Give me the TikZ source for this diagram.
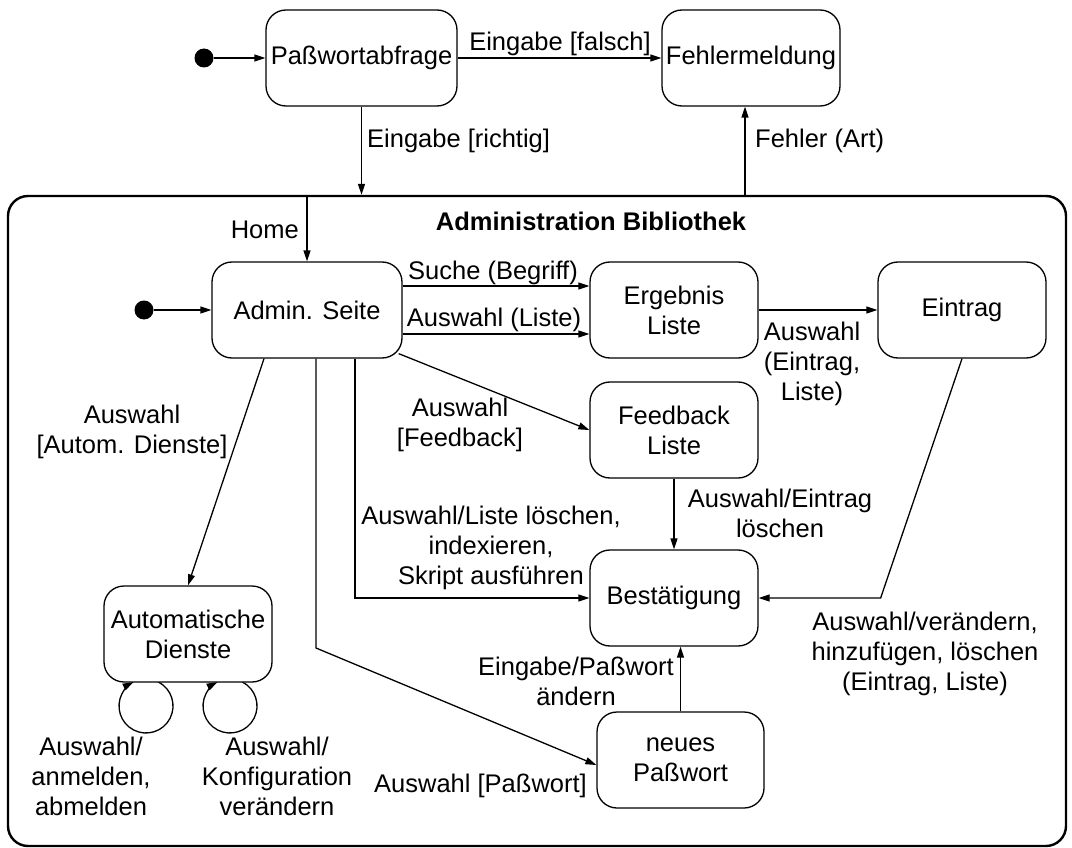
\documentclass[tikz,border=0pt]{standalone}
\usepackage{fontspec}
\setmainfont{Liberation Sans}
\usetikzlibrary{arrows.meta}
\begin{document}
\begin{tikzpicture}[x=1pt,y=-1pt,
  every node/.style={font=\fontsize{25.5}{30}\selectfont},
  state/.style={draw, fill=white, rounded corners=20pt, line width=1.3pt,
    minimum width=168pt, minimum height=96pt, align=center, inner sep=2pt},
  arr/.style={line width=1.3pt, -{Triangle[length=11pt,width=7pt]}},
  plain/.style={line width=1.3pt},
  lbl/.style={align=center, inner sep=0pt},
  initdot/.style={circle, fill=black, minimum size=19pt, inner sep=0pt},
]
\useasboundingbox (0,0) rectangle (1072,848);

% composite state
\node[draw, rounded corners=20pt, line width=2.4pt, minimum width=1058pt,
      minimum height=650pt, inner sep=0pt] (bib) at (537,521) {};
\node[font=\fontsize{25.5}{30}\selectfont\bfseries, anchor=base, inner sep=0pt]
      (title) at (591,230) {Administration Bibliothek};

% top level states
\node[initdot] (start) at (204,58) {};
\node[state, minimum width=191pt] (pw) at (361.5,58) {Paßwortabfrage};
\node[state, minimum width=178pt] (fm) at (751,58) {Fehlermeldung};

% inner states
\node[initdot] (start2) at (144,310) {};
\node[state, minimum width=190pt] (admin) at (307,310) {Admin. Seite};
\node[state] (erg) at (674,310) {Ergebnis\\Liste};
\node[state] (ein) at (962,310) {Eintrag};
\node[state] (fb) at (674,430) {Feedback\\Liste};
\node[state] (best) at (674,598) {Bestätigung};
\node[state, minimum width=167pt] (np) at (680.5,760) {neues\\Paßwort};

% self transitions of the services state (drawn below the state box)
\coordinate (auc) at (188,634);
\coordinate (la) at ([xshift=-29.6pt,yshift=-48pt]auc);
\coordinate (lb) at ([xshift=54.4pt,yshift=-48pt]auc);
\draw[arr] (la) arc[start angle=-62.7, end angle=242.7, radius=27];
\draw[arr] (lb) arc[start angle=-62.7, end angle=242.7, radius=27];
\node[state] (auto) at (auc) {Automatische\\Dienste};

% helper points
\coordinate (fx) at ([xshift=-6pt]fm.south);
\coordinate (aBest) at ([xshift=48pt]admin.south);
\coordinate (aPw) at ([xshift=9pt]admin.south);
\coordinate (aPwBend) at (316,648);
\coordinate (aAuto) at ([xshift=-43pt]admin.south);
\coordinate (aFb) at ([xshift=-4pt,yshift=5pt]admin.south east);
\coordinate (eBend) at ([xshift=122pt]best.east);

% transitions
\draw[arr] (start) -- (pw.west);
\draw[arr] (pw.east) -- (fm.west);
\draw[arr] (pw.south) -- (pw.south |- bib.north);
\draw[arr] (fx |- bib.north) -- (fx);
\draw[arr] (admin.north |- bib.north) -- (admin.north);
\draw[arr] (start2) -- (admin.west);
\draw[arr] ([yshift=24pt]admin.east) -- ([yshift=24pt]erg.west);
\draw[arr] ([yshift=-24pt]admin.east) -- ([yshift=-24pt]erg.west);
\draw[arr] (erg.east) -- (ein.west);
\draw[arr] (aFb) -- (fb.west);
\draw[arr] (fb.south) -- (best.north);
\draw[arr] (aBest) |- (best.west);
\draw[arr] (ein.south) -- (eBend) -- (best.east);
\draw[arr] (np.north) -- (np.north |- best.south);
\draw[arr] (aPw) -- (aPwBend) -- ([yshift=-5pt]np.west);
\draw[arr] (aAuto) -- (auto.north);

% transition labels
\node[lbl, anchor=base] (l1) at (560,51) {Eingabe [falsch]};
\node[lbl, anchor=base west] (l2) at (367,148) {Eingabe [richtig]};
\node[lbl, anchor=base west] (l3) at (755,148) {Fehler (Art)};
\node[lbl, anchor=base east] (l4) at (299,238) {Home};
\node[lbl, anchor=base] (l5) at (493,279) {Suche (Begriff)};
\node[lbl, anchor=base] (l6) at (494,326) {Auswahl (Liste)};
\node[lbl] (l7) at (812,364) {Auswahl\\(Eintrag,\\Liste)};
\node[lbl] (l8) at (460,425) {Auswahl\\{[Feedback]}};
\node[lbl] (l9) at (132,432) {Auswahl\\{[Autom. Dienste]}};
\node[lbl] (l10) at (491,548) {Auswahl/Liste löschen,\\indexieren,\\Skript ausführen};
\node[lbl] (l11) at (780,513) {Auswahl/Eintrag\\löschen};
\node[lbl] (l12) at (925,654) {Auswahl/verändern,\\hinzufügen, löschen\\(Eintrag, Liste)};
\node[lbl] (l13) at (576,681) {Eingabe/Paßwort\\ändern};
\node[lbl, anchor=base east] (l14) at (587,792) {Auswahl [Paßwort]};
\node[lbl] (l15) at (91,776) {Auswahl/\\anmelden,\\abmelden};
\node[lbl] (l16) at (277,776) {Auswahl/\\Konfiguration\\verändern};
\end{tikzpicture}
\end{document}
